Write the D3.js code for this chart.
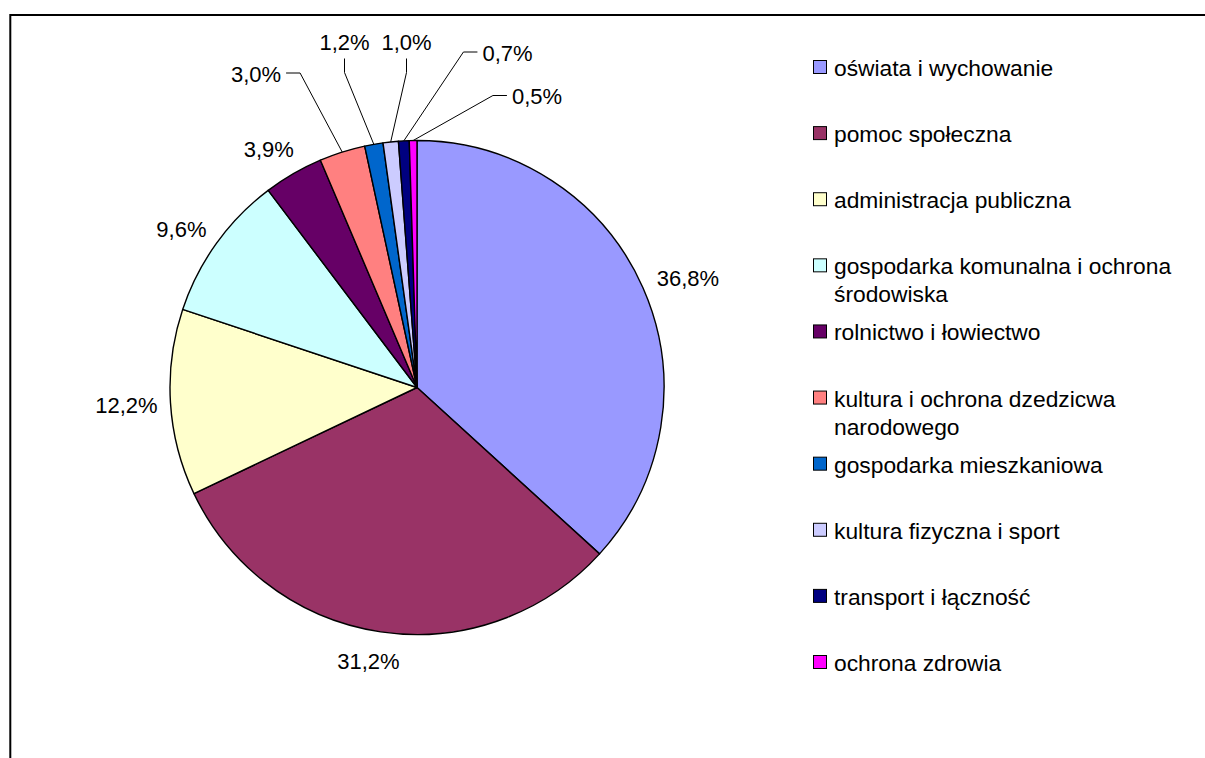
<!DOCTYPE html>
<html>
<head>
<meta charset="utf-8">
<script src="https://cdn.jsdelivr.net/npm/d3@7"></script>
<style>
  body { margin: 0; background: #fff; }
  svg { display: block; font-family: "Liberation Sans", Arial, sans-serif; }
</style>
</head>
<body>
<div class="first"></div>
<script>
// data
const categories = [
  "oświata i wychowanie",
  "pomoc społeczna",
  "administracja publiczna",
  "gospodarka komunalna i ochrona środowiska",
  "rolnictwo i łowiectwo",
  "kultura i ochrona dzedzicwa narodowego",
  "gospodarka mieszkaniowa",
  "kultura fizyczna i sport",
  "transport i łączność",
  "ochrona zdrowia"
];
const shares = [36.8, 31.2, 12.2, 9.6, 3.9, 3.0, 1.2, 1.0, 0.7, 0.5];
const sliceColors = ["#9999FF", "#993366", "#FFFFCC", "#CCFFFF", "#660066",
                     "#FF8080", "#0066CC", "#CCCCFF", "#000080", "#FF00FF"];
// how the legend wraps the long names
const legendLines = [
  ["oświata i wychowanie"],
  ["pomoc społeczna"],
  ["administracja publiczna"],
  ["gospodarka komunalna i ochrona", "środowiska"],
  ["rolnictwo i łowiectwo"],
  ["kultura i ochrona dzedzicwa", "narodowego"],
  ["gospodarka mieszkaniowa"],
  ["kultura fizyczna i sport"],
  ["transport i łączność"],
  ["ochrona zdrowia"]
];

const w = 1205, h = 758;
const cx = 417, cy = 387.5, R = 247;
const fontSize = 22;
const legendFont = 22.8;

// labels that were dragged out with leader lines (offsets from pie centre)
const leaderPos = {5: [-161, -314.5], 6: [-72.5, -346], 7: [-10.5, -346], 8: [90.5, -335.5], 9: [120, -292]};
// small manual shifts for a couple of labels
const labelNudge = {1: [-5, 3], 2: [5, 0], 4: [-3, -3]};

const svg = d3.select('.first')
  .append('svg')
  .attr('width', w)
  .attr('height', h);

svg.append('rect')
  .attr('width', w)
  .attr('height', h)
  .attr('fill', '#fff');

// outer frame (runs off right and bottom of the picture)
svg.append('rect')
  .attr('x', 10.3)
  .attr('y', 15)
  .attr('width', 1400)
  .attr('height', 1000)
  .attr('fill', 'none')
  .attr('stroke', '#000')
  .attr('stroke-width', 2);

const pie = d3.pie().sort(null).value(d => d)(shares);
const arc = d3.arc().innerRadius(0).outerRadius(R);

const g = svg.append('g').attr('transform', `translate(${cx},${cy})`);

g.selectAll('path.slice')
  .data(pie)
  .enter()
  .append('path')
  .attr('class', 'slice')
  .attr('d', arc)
  .attr('fill', (d, i) => sliceColors[i])
  .attr('stroke', '#000')
  .attr('stroke-width', 1.4)
  .attr('stroke-linejoin', 'round');

const fmt = v => d3.format('.1f')(v).replace('.', ',') + '%';

pie.forEach((d, i) => {
  const a = (d.startAngle + d.endAngle) / 2;
  const ux = Math.sin(a), uy = -Math.cos(a);
  const txt = fmt(shares[i]);
  const t = g.append('text')
    .attr('text-anchor', 'middle')
    .attr('dominant-baseline', 'central')
    .attr('font-size', fontSize)
    .attr('fill', '#000')
    .text(txt);
  const bw = t.node().getComputedTextLength();
  const hw = bw / 2, hh = 8;
  let lx, ly;
  if (leaderPos[i]) {
    [lx, ly] = leaderPos[i];
    const px = R * ux, py = R * uy;
    let sx, sy, ex, ey;
    if (Math.abs(px - lx) < hw * 1.5) {
      sx = lx; sy = ly + hh + 9; ex = sx; ey = sy + 14;
    } else if (lx < px) {
      sx = lx + hw + 5; sy = ly; ex = sx + 14; ey = sy;
    } else {
      sx = lx - hw - 5; sy = ly; ex = sx - 14; ey = sy;
    }
    g.append('path')
      .attr('d', `M${sx},${sy}L${ex},${ey}L${px},${py}`)
      .attr('fill', 'none')
      .attr('stroke', '#000')
      .attr('stroke-width', 1);
  } else {
    const r = R + 18;
    lx = r * ux + ux * hw;
    ly = r * uy + uy * hh;
    if (labelNudge[i]) { lx += labelNudge[i][0]; ly += labelNudge[i][1]; }
  }
  t.attr('x', lx).attr('y', ly + 1);
});

// legend
const legY = d3.scaleLinear().domain([0, categories.length - 1]).range([67, 662]);
const leg = svg.append('g');
categories.forEach((c, i) => {
  const y = legY(i);
  leg.append('rect')
    .attr('x', 813.5)
    .attr('y', y - 6.5)
    .attr('width', 13)
    .attr('height', 13)
    .attr('fill', sliceColors[i])
    .attr('stroke', '#000')
    .attr('stroke-width', 1);
  const t = leg.append('text')
    .attr('x', 834)
    .attr('y', y + 1)
    .attr('font-size', legendFont)
    .attr('dominant-baseline', 'central')
    .attr('fill', '#000');
  legendLines[i].forEach((ln, k) => {
    t.append('tspan')
      .attr('x', 834)
      .attr('y', y + 1 + k * 28)
      .text(ln);
  });
});
</script>
</body>
</html>
